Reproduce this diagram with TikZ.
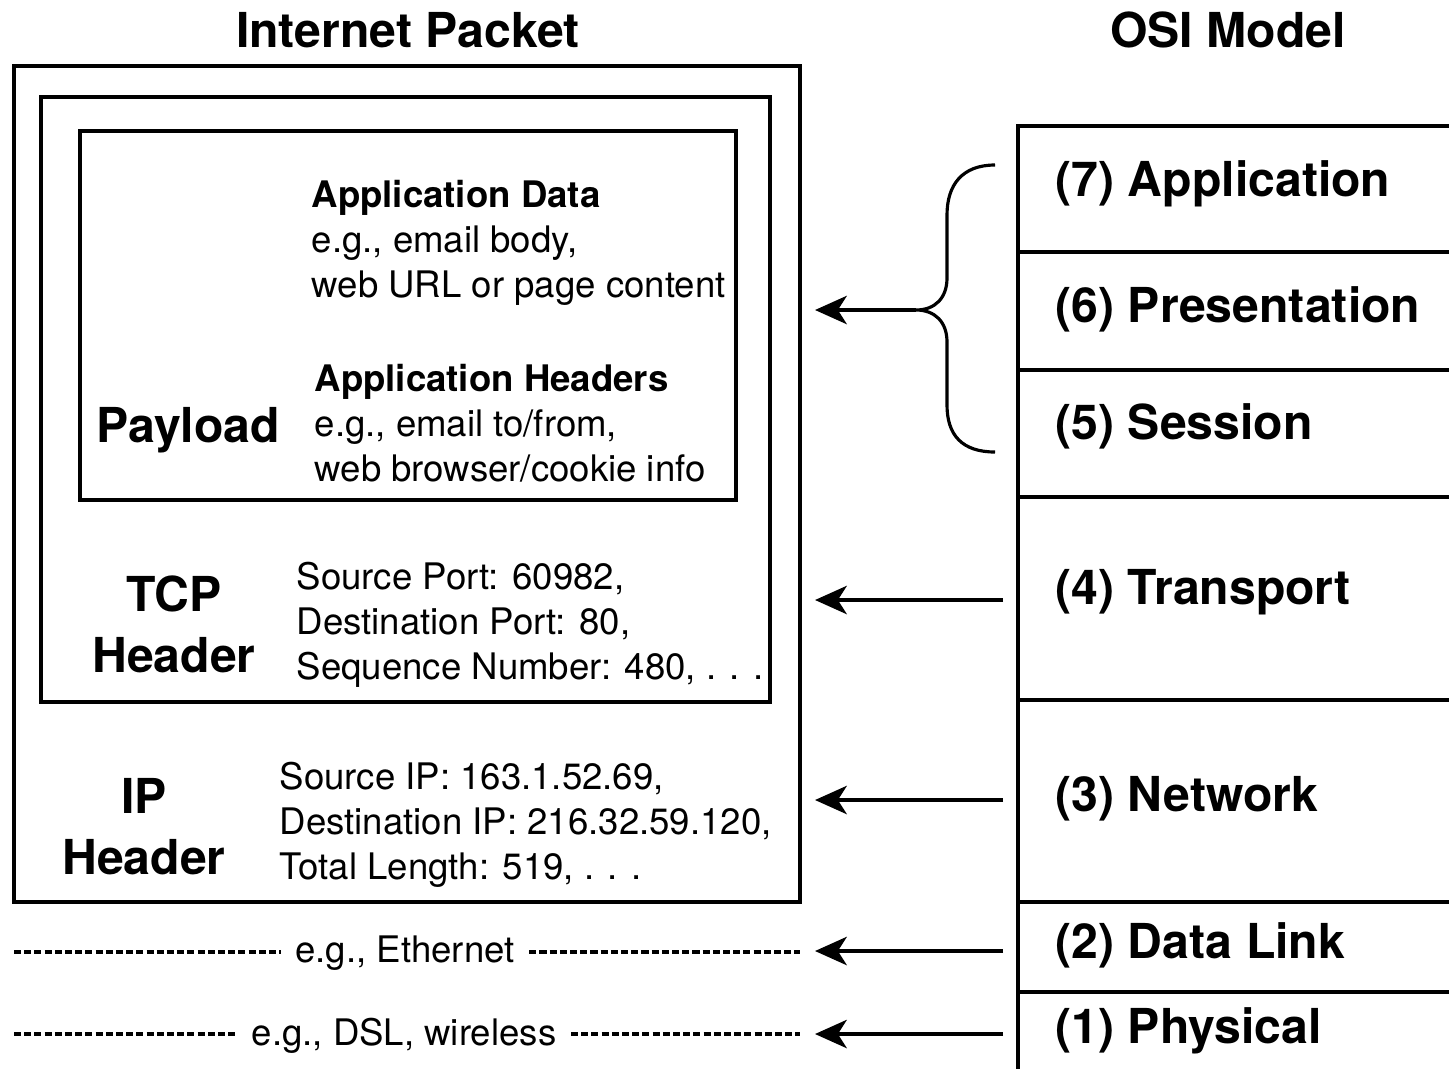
\documentclass[tikz,border=0pt]{standalone}
\usepackage{fontspec}
\setmainfont{TeX Gyre Heros}
\usetikzlibrary{arrows.meta}

\begin{document}
\begin{tikzpicture}[x=0.01cm,y=-0.01cm,
    box/.style={draw,line width=0.9pt},
    big/.style={font=\fontsize{13.7}{17.4}\selectfont\bfseries,align=center,inner sep=0},
    small/.style={font=\fontsize{10.4}{12.8}\selectfont,align=left,inner sep=0,anchor=west},
    layer/.style={font=\fontsize{13.7}{16}\selectfont\bfseries,anchor=west,inner sep=0},
    pointer/.style={line width=1.3pt,-{Stealth[length=9pt,width=8pt,inset=2.5pt]}},
    linkline/.style={line width=0.95pt,dash pattern=on 2pt off 0.9pt},
    linktext/.style={font=\fontsize{10.4}{12.8}\selectfont,inner xsep=4pt,inner ysep=0}]
    \useasboundingbox (0,0) rectangle (1449,1069);
            \node[big] (pkt) at (408,30) {Internet Packet};
            \node[big] (osi) at (1228,30) {OSI Model};
            \draw[box] (14,66) rectangle (800,902);
            \draw[box] (41,97) rectangle (770,702);
            \draw[box] (80,131) rectangle (736,500);
            \node[small] (appdata) at (311,243) {\textbf{Application Data}\\e.g., email body,\\web URL or page content};
            \node[small] (apphdr) at (314,423) {\textbf{Application Headers}\\e.g., email to/from,\\web browser/cookie info};
            \node[big] (payload) at (188,430) {Payload};
            \node[big] (tcp) at (174,624) {TCP\\Header};
            \node[small] (tcpinfo) at (296,625) {Source Port: 60982,\\Destination Port: 80,\\Sequence Number: 480, . . .};
            \node[big] (ip) at (144,827) {IP\\Header};
            \node[small] (ipinfo) at (279,825) {Source IP: 163.1.52.69,\\Destination IP: 216.32.59.120,\\Total Length: 519, . . .};
            \node[linktext] (eth) at (405,953) {e.g., Ethernet};
            \node[linktext] (dsl) at (404,1036) {e.g., DSL, wireless};
            \coordinate (ethL) at (14,952); \coordinate (ethR) at (800,952);
            \coordinate (dslL) at (14,1034); \coordinate (dslR) at (800,1034);
            \draw[linkline] (ethL) -- (ethL -| eth.west) (ethR -| eth.east) -- (ethR);
            \draw[linkline] (dslL) -- (dslL -| dsl.west) (dslR -| dsl.east) -- (dslR);
            \draw[box] (1449,126) -- (1018,126) -- (1018,1069);
            \foreach \y in {252,370,497,700,902,992}
                \draw[box] (1018,\y) -- (1449,\y);
            \foreach \y/\n/\t in {184/7/Application,309/6/Presentation,426/5/Session,592/4/Transport,799/3/Network,945/2/Data Link,1031/1/Physical}
                \node[layer] (l\n) at (1055,\y) {(\n) \t};
            \coordinate (btop) at (995,165);
            \coordinate (bbot) at (995,452);
            \coordinate (btip) at (916,310);
            \coordinate (dst7) at (815,310);
            \draw[line width=0.9pt] (btop) .. controls (962,165) and (947,185) .. (947,215) -- (947,278) .. controls (947,298) and (935,310) .. (btip)
                .. controls (935,310) and (947,322) .. (947,342) -- (947,405) .. controls (947,435) and (962,452) .. (bbot);
            \draw[pointer] (btip) -- (dst7);
            \foreach \y/\n in {600/4,800/3,951/2,1034/1}{
                \coordinate (src\n) at (1003,\y);
                \coordinate (dst\n) at (815,\y);
                \draw[pointer] (src\n) -- (dst\n);
            }
    \end{tikzpicture}
\end{document}
